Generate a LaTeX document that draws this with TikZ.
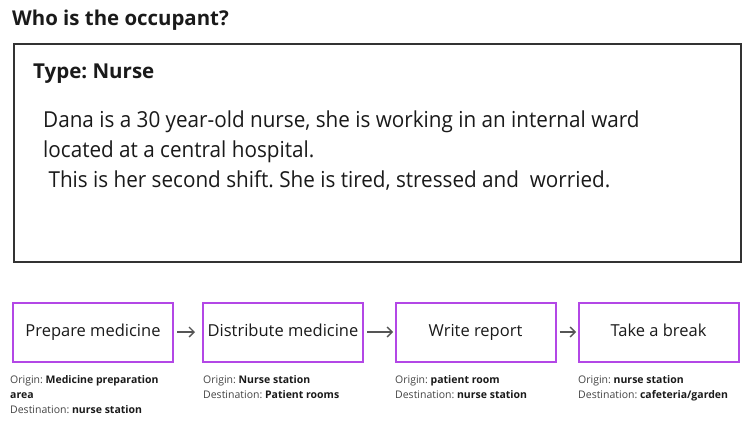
\documentclass[tikz,border=0pt]{standalone}
\usepackage{fontspec}
\setmainfont{Open Sans}
\newfontfamily\condfont{Open Sans}[FakeStretch=0.94]
\usetikzlibrary{arrows.meta}
\definecolor{ink}{HTML}{1A1A1A}
\definecolor{frame}{HTML}{333333}
\definecolor{stepviolet}{HTML}{B347E6}
\definecolor{arrowgray}{HTML}{555555}
\definecolor{labelgray}{HTML}{444444}
\tikzset{
  stepbox/.style={draw=stepviolet, line width=2pt, minimum width=160pt, minimum height=59pt, inner sep=0pt, text height=12pt, text depth=4pt, font=\fontsize{16.5}{20}\selectfont, text=ink},
  flow/.style={draw=arrowgray, line width=1.3pt, -{Straight Barb[length=5pt,width=10pt]}},
  info/.style={anchor=base west, inner sep=0pt, font=\fontsize{10.5}{15}\selectfont, text=labelgray},
  desc/.style={anchor=base west, inner sep=0pt, font=\condfont\fontsize{22}{30}\selectfont, text=ink},
}
\begin{document}
\frenchspacing
\begin{tikzpicture}[x=1pt,y=-1pt]
\useasboundingbox[fill=white] (0,0) rectangle (750,423);
\node[anchor=base west, inner sep=0pt, font=\fontsize{20.4}{24}\bfseries\selectfont, text=ink] (title) at (12,25) {Who is the occupant?};
\node[draw=frame, line width=1.8pt, minimum width=727pt, minimum height=218pt, inner sep=0pt, anchor=north west] (card) at (13,43) {};
\node[anchor=base west, inner sep=0pt, font=\fontsize{20.5}{24}\bfseries\selectfont, text=ink] (type) at (33,78) {Type: Nurse};
\node[desc] (l1) at (43,127) {Dana is a 30 year-old nurse, she is working in an internal ward};
\node[desc] (l2) at (43,157) {located at a central hospital.};
\node[desc] (l3) at (43,187) {\ This is her second shift. She is tired, stressed and\ \ worried.};

\node[stepbox] (s1) at (93,332) {Prepare medicine};
\node[stepbox] (s2) at (283,332) {Distribute medicine};
\node[stepbox] (s3) at (475.5,332) {Write report};
\node[stepbox] (s4) at (658.5,332) {Take a break};

\draw[flow] ([xshift=3pt]s1.east) -- ([xshift=-7pt]s2.west);
\draw[flow] ([xshift=3pt]s2.east) -- ([xshift=-1.5pt]s3.west);
\draw[flow] ([xshift=3pt]s3.east) -- ([xshift=-1.5pt]s4.west);

\node[info] (i1) at (10,383) {\begin{tabular}[t]{@{}l@{}}Origin: \textcolor{ink}{\bfseries Medicine preparation}\\\textcolor{ink}{\bfseries area}\\Destination: \textcolor{ink}{\bfseries nurse station}\end{tabular}};
\node[info] (i2) at (203,383) {\begin{tabular}[t]{@{}l@{}}Origin: \textcolor{ink}{\bfseries Nurse station}\\Destination: \textcolor{ink}{\bfseries Patient rooms}\end{tabular}};
\node[info] (i3) at (395,383) {\begin{tabular}[t]{@{}l@{}}Origin: \textcolor{ink}{\bfseries patient room}\\Destination: \textcolor{ink}{\bfseries nurse station}\end{tabular}};
\node[info] (i4) at (578,383) {\begin{tabular}[t]{@{}l@{}}Origin: \textcolor{ink}{\bfseries nurse station}\\Destination: \textcolor{ink}{\bfseries cafeteria/garden}\end{tabular}};
\end{tikzpicture}
\end{document}
